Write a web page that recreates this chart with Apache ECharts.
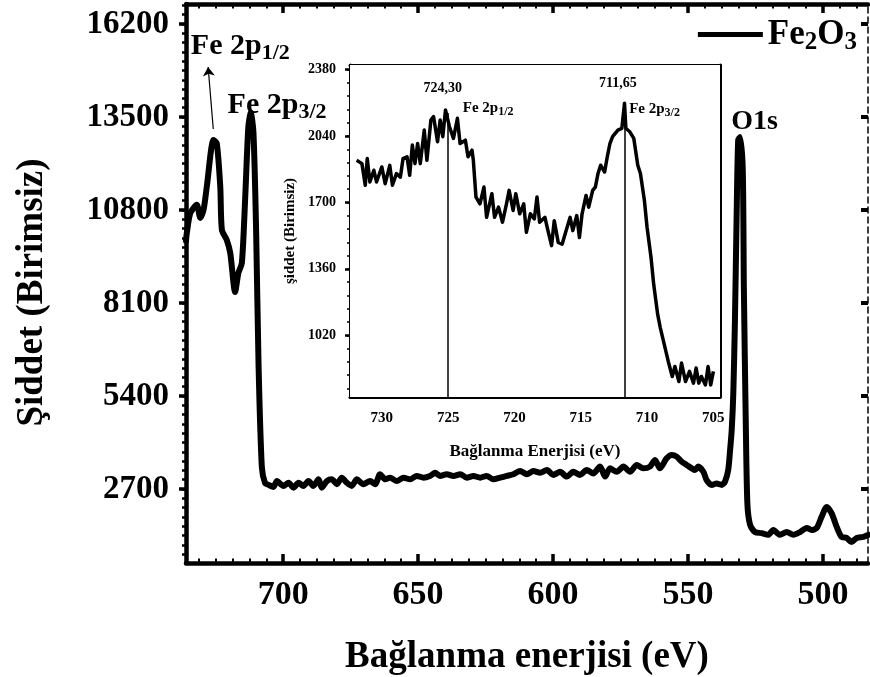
<!DOCTYPE html>
<html><head><meta charset="utf-8">
<script src="https://cdn.jsdelivr.net/npm/echarts@6/dist/echarts.min.js"></script>
<style>html,body{margin:0;padding:0;background:#fff}#c{width:870px;height:677px}</style>
</head><body><div id="c"></div>
<script>
// ---- Main survey spectrum (binding energy eV, intensity a.u.)
const mainEnergy = [736.0,735.7,734.4,732.0,730.7,729.5,728.3,725.8,724.6,723.3,722.7,720.9,719.6,717.8,716.6,715.3,714.1,712.9,712.0,711.0,710.0,709.1,707.9,706.7,705.4,
703.6,702.3,699.9,698.0,696.2,694.3,692.5,690.6,688.8,686.9,685.7,683.8,682.0,680.1,678.3,676.4,674.6,672.7,670.3,667.8,665.9,664.1,662.2,660.4,657.9,655.4,653.0,650.5,648.0,645.6,643.7,641.9,639.4,636.9,634.4,632.0,629.5,627.0,624.6,622.1,619.6,617.1,614.7,612.2,609.7,607.3,604.8,
602.3,599.9,597.4,594.9,592.5,590.0,587.5,585.1,582.6,580.7,578.9,576.4,573.9,571.5,569.0,566.6,564.1,562.2,560.4,557.9,556.0,554.2,552.3,550.5,548.6,547.4,546.2,544.3,543.1,541.2,539.4,537.5,536.3,535.1,
534.4,533.8,533.2,532.6,532.0,531.4,530.7,529.7,529.3,528.6,528.0,527.0,525.2,522.7,520.3,518.4,515.9,513.4,511.0,508.5,506.0,504.2,502.3,500.5,498.6,496.8,494.9,493.1,491.2,489.4,487.5,485.0,483.1];
const mainIntensity = [9900,10130,10710,10950,10570,10800,11470,12830,12740,11470,10220,9930,9550,8420,8970,9260,11090,13210,13620,13040,10130,6240,3340,2870,2820,
2760,2930,2790,2880,2740,2880,2790,2930,2790,2980,2740,2930,2980,2840,3030,2880,2790,2980,2840,2930,2840,3130,2980,3030,2930,3030,2980,3080,3030,3080,3170,3080,3130,3080,3130,3030,3080,3030,3080,2980,3030,3080,3130,3220,3130,3220,3170,
3250,3110,3200,3060,3200,3110,3250,3150,3350,3060,3300,3200,3350,3200,3400,3300,3350,3540,3300,3590,3690,3640,3490,3400,3300,3250,3350,3200,2960,2820,2860,2820,2910,3250,
3830,4410,5500,7610,10510,12830,12920,11960,8560,4700,2290,1660,1450,1420,1370,1510,1370,1450,1370,1450,1570,1510,1570,1890,2180,2000,1600,1310,1280,1160,1280,1310,1370];

// ---- Inset: Fe 2p high resolution
const insetEnergy = [731.9,731.5,731.25,731.1,730.9,730.6,730.4,730.0,729.75,729.4,729.2,728.9,728.6,728.4,728.1,727.9,727.7,727.5,727.3,727.1,726.8,726.6,726.3,726.1,725.8,725.6,725.4,725.2,724.9,724.6,724.3,724.1,723.7,723.5,723.2,723.1,722.9,722.6,722.3,722.1,721.7,721.5,721.2,720.9,720.6,720.4,720.1,719.9,719.6,719.3,719.1,718.8,718.5,718.3,718.1,717.7,717.5,717.2,717.0,716.7,716.4,716.1,715.8,715.6,715.3,715.1,714.9,714.6,714.4,714.1,713.9,713.7,713.5,713.2,713.0,712.8,712.6,712.2,711.9,711.7,711.6,711.3,711.0,710.7,710.5,710.2,710.0,709.7,709.5,709.2,709.0,708.7,708.4,708.1,707.9,707.6,707.4,707.1,706.8,706.5,706.3,706.1,705.9,705.6,705.4,705.2,705.0];
const insetIntensity = [1916,1899,1788,1925,1805,1865,1805,1882,1796,1890,1788,1848,1830,1925,1934,1839,1994,1899,2002,1899,2071,1916,2122,2140,2011,2122,2037,2174,2088,2028,2131,2002,2019,1934,1968,1916,1728,1693,1779,1624,1745,1624,1676,1599,1693,1762,1659,1745,1642,1693,1547,1642,1616,1728,1599,1624,1564,1479,1607,1496,1487,1556,1624,1556,1633,1521,1642,1736,1676,1762,1779,1848,1891,1856,1934,2002,2037,2071,2080,2208,2080,2062,2028,1891,1848,1710,1573,1418,1281,1127,1058,972,886,809,860,783,878,783,835,775,852,775,809,766,860,766,835];

// ---- Peak markers in the inset
const peakLines = [725.0, 711.65];
const peakTops = [2158, 2209];
const peakLabels = ['724,30', '711,65'];

// ---- Tick labels
const mainXTicks = [700, 650, 600, 550, 500];
const mainYTicks = [2700, 5400, 8100, 10800, 13500, 16200];
const insetXTicks = [730, 725, 720, 715, 710, 705];
const insetYTicks = [1020, 1360, 1700, 2040, 2380];

// ---- Axis ranges
const mainXRange = [483.3, 736.0];
const mainYRange = [552, 16780];
const insetXRange = [704.5, 732.4];
const insetYRange = [704, 2404];

function steps(a, b, s) { const r = []; for (let v = a; v <= b + 1e-9; v += s) r.push(+v.toFixed(3)); return r; }
const mainXMinor = steps(487.5, 735, 6.25);
const mainYMinor = steps(810, 16740, 270);
const insetXMinor = steps(705, 732, 1);
const insetYMinor = steps(748, 2380, 68);

const FF = 'Liberation Serif, Times New Roman, serif';
const mainData = mainEnergy.map((e, i) => [e, mainIntensity[i]]);
const insetData = insetEnergy.map((e, i) => [e, insetIntensity[i]]);
const plain = v => String(v);

function xAx(grid, range, pos, opts) {
  return Object.assign({
    type: 'value', gridIndex: grid, min: range[0], max: range[1], inverse: true, position: pos,
    splitLine: { show: false }, axisLine: { show: false }, axisTick: { show: false }, axisLabel: { show: false }
  }, opts);
}
function yAx(grid, range, pos, opts) {
  return Object.assign({
    type: 'value', gridIndex: grid, min: range[0], max: range[1], position: pos,
    splitLine: { show: false }, axisLine: { show: false }, axisTick: { show: false }, axisLabel: { show: false }
  }, opts);
}
const line = (w, t) => ({ show: true, onZero: false, lineStyle: { color: '#000', width: w, type: t || 'solid' } });
const tick = (vals, inside, len, w) => ({ show: true, customValues: vals, inside: inside, length: len, lineStyle: { color: '#000', width: w } });

const chart = echarts.init(document.getElementById('c'));
const option = {
  animation: false,
  backgroundColor: '#fff',
  grid: [
    { left: 186, top: 4, width: 682, height: 559, containLabel: false, outerBoundsMode: 'none' },
    { left: 350, top: 65, width: 370, height: 332, containLabel: false, outerBoundsMode: 'none', show: true, backgroundColor: '#fff', borderWidth: 0, z: 3 }
  ],
  legend: {
    data: ['Fe2O3'], right: 8, top: 12, icon: 'rect', itemWidth: 65, itemHeight: 5, itemGap: 6,
    formatter: () => '{a|Fe}{b|2}{a|O}{b|3}',
    textStyle: { rich: {
      a: { fontFamily: FF, fontWeight: 'bold', fontSize: 35, color: '#000', lineHeight: 42, verticalAlign: 'middle' },
      b: { fontFamily: FF, fontWeight: 'bold', fontSize: 25, color: '#000', lineHeight: 25, verticalAlign: 'bottom' }
    } }
  },
  xAxis: [
    xAx(0, mainXRange, 'bottom', { axisLine: line(4.5), axisTick: tick(mainXTicks, true, 9, 3.5),
      axisLabel: { show: true, customValues: mainXTicks, formatter: plain, fontFamily: FF, fontWeight: 'bold', fontSize: 34, color: '#000', margin: 15 },
      name: 'Bağlanma enerjisi (eV)', nameLocation: 'middle', nameGap: 76,
      nameTextStyle: { fontFamily: FF, fontWeight: 'bold', fontSize: 37, color: '#000' } }),
    xAx(0, mainXRange, 'bottom', { axisTick: tick(mainXMinor, true, 4.5, 2) }),
    xAx(0, mainXRange, 'top', { axisLine: line(4.5), axisTick: tick(mainXTicks, true, 9, 3.5) }),
    xAx(0, mainXRange, 'top', { axisTick: tick(mainXMinor, true, 4.5, 2) }),
    xAx(1, insetXRange, 'bottom', { axisLine: line(3), axisTick: tick(insetXTicks, true, 6, 2.5),
      axisLabel: { show: true, customValues: insetXTicks, formatter: plain, fontFamily: FF, fontWeight: 'bold', fontSize: 15, color: '#000', margin: 14 },
      name: 'Bağlanma Enerjisi (eV)', nameLocation: 'middle', nameGap: 46,
      nameTextStyle: { fontFamily: FF, fontWeight: 'bold', fontSize: 17, color: '#000' } }),
    xAx(1, insetXRange, 'bottom', { axisTick: tick(insetXMinor, true, 3, 1.5) }),
    xAx(1, insetXRange, 'top', { axisLine: line(3), axisTick: tick(insetXTicks, true, 6, 2.5) }),
    xAx(1, insetXRange, 'top', { axisTick: tick(insetXMinor, true, 3, 1.5) })
  ],
  yAxis: [
    yAx(0, mainYRange, 'left', { axisLine: line(4.5), axisTick: tick(mainYTicks, false, 7, 3.5),
      axisLabel: { show: true, customValues: mainYTicks, formatter: plain, fontFamily: FF, fontWeight: 'bold', fontSize: 33, color: '#000', margin: 17 },
      name: 'Şiddet (Birimsiz)', nameLocation: 'middle', nameGap: 135,
      nameTextStyle: { fontFamily: FF, fontWeight: 'bold', fontSize: 37, color: '#000', padding: [0, 18, 0, 0] } }),
    yAx(0, mainYRange, 'left', { axisTick: tick(mainYMinor, false, 4, 2.5) }),
    yAx(0, mainYRange, 'right', { axisLine: line(1.5, [6, 4]), axisTick: tick(mainYTicks, true, 7, 4) }),
    yAx(1, insetYRange, 'left', { axisLine: line(3), axisTick: tick(insetYTicks, false, 5, 2.5),
      axisLabel: { show: true, customValues: insetYTicks, formatter: plain, fontFamily: FF, fontWeight: 'bold', fontSize: 14, color: '#000', margin: 14 },
      name: 'şiddet (Birimsiz)', nameLocation: 'middle', nameGap: 52,
      nameTextStyle: { fontFamily: FF, fontWeight: 'bold', fontSize: 15, color: '#000' } }),
    yAx(1, insetYRange, 'left', { axisTick: tick(insetYMinor, false, 3, 1.5) }),
    yAx(1, insetYRange, 'right', { axisLine: line(3), axisTick: tick(insetYTicks, true, 6, 2.5) }),
    yAx(1, insetYRange, 'right', { axisTick: tick(insetYMinor, true, 3, 1.5) })
  ],
  series: [
    { name: 'Fe2O3', type: 'line', xAxisIndex: 0, yAxisIndex: 0, data: mainData, showSymbol: false, smooth: 0.25,
      lineStyle: { color: '#000', width: 6, cap: 'round', join: 'round' }, itemStyle: { color: '#000' },
      markLine: { silent: true, symbol: ['none', 'arrow'], symbolSize: 9, label: { show: false },
        lineStyle: { color: '#000', width: 1.2, type: 'solid' },
        data: [[{ coord: [725.9, 13150] }, { coord: [727.8, 14950] }]] } },
    { name: 'inset', type: 'line', xAxisIndex: 4, yAxisIndex: 3, data: insetData, showSymbol: false, z: 5,
      lineStyle: { color: '#000', width: 3.5, join: 'round' }, itemStyle: { color: '#000' },
      markLine: { silent: true, symbol: ['none', 'none'], label: { show: false },
        lineStyle: { color: '#000', width: 1.5, type: 'solid' },
        data: peakLines.map((p, i) => [{ coord: [p, insetYRange[0]] }, { coord: [p, peakTops[i]] }]) } }
  ],
  graphic: []
};
chart.setOption(option);

// Annotations (placed via data->pixel conversion)
function rt(main, sub, fs, ss) {
  return {
    text: '{a|' + main + '}{b|' + sub + '}',
    rich: {
      a: { fontFamily: FF, fontWeight: 'bold', fontSize: fs, fill: '#000', lineHeight: fs * 1.25, verticalAlign: 'middle' },
      b: { fontFamily: FF, fontWeight: 'bold', fontSize: ss, fill: '#000', lineHeight: ss, verticalAlign: 'bottom' }
    }
  };
}
const P = (xi, yi, pt) => chart.convertToPixel({ xAxisIndex: xi, yAxisIndex: yi }, pt);
const g = [];
function addText(pos, style, align) {
  g.push({ type: 'text', x: pos[0], y: pos[1], z: 100, style: Object.assign({ align: align || 'left', verticalAlign: 'middle' }, style) });
}
// main annotations
addText(P(0, 0, [734.2, 15560]), rt('Fe 2p', '1/2', 30, 22));
addText(P(0, 0, [720.6, 13850]), rt('Fe 2p', '3/2', 30, 22));
addText(P(0, 0, [534.0, 13360]), { text: 'O1s', fontFamily: FF, fontWeight: 'bold', fontSize: 28, fill: '#000' });
// inset annotations
const peakLabelPos = [[725.4, 2286], [712.2, 2312]];
const peakNamePos = [[723.9, 2183], [711.35, 2178]];
peakLines.forEach((p, i) => {
  addText(P(4, 3, peakLabelPos[i]), { text: peakLabels[i], fontFamily: FF, fontWeight: 'bold', fontSize: 14, fill: '#000' }, 'center');
  addText(P(4, 3, peakNamePos[i]), rt('Fe 2p', i ? '3/2' : '1/2', 15, 12));
});
chart.setOption({ graphic: g });
</script>
</body></html>
